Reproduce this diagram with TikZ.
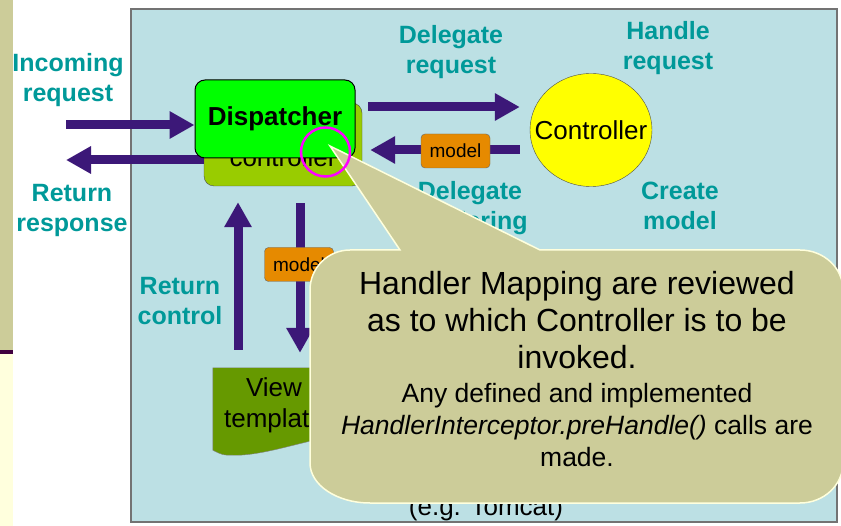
\documentclass[tikz,border=0pt]{standalone}
\usepackage{fontspec}
\setmainfont{Liberation Sans}
\usetikzlibrary{arrows.meta,shapes.geometric,calc}
\definecolor{panelblue}{RGB}{188,224,228}
\definecolor{labelteal}{RGB}{0,153,153}
\definecolor{arrowpurple}{RGB}{60,24,120}
\definecolor{dispgreen}{RGB}{0,255,0}
\definecolor{frontolive}{RGB}{153,204,0}
\definecolor{modelorange}{RGB}{230,138,0}
\definecolor{viewgreen}{RGB}{102,153,0}
\definecolor{calloutkhaki}{RGB}{204,204,153}
\definecolor{calloutrim}{RGB}{255,255,221}
\definecolor{stripkhaki}{RGB}{204,204,153}
\definecolor{stripdark}{RGB}{64,0,64}
\definecolor{stripyellow}{RGB}{255,255,221}
\definecolor{ringmagenta}{RGB}{255,0,255}
\definecolor{ballyellow}{RGB}{255,255,0}
\begin{document}
\begin{tikzpicture}[x=1pt,y=-1pt,
	bigarrow/.style={draw=arrowpurple,line width=9pt,-{Triangle[length=25pt,width=26pt]}},
	steplabel/.style={text=labelteal,align=center,inner sep=0pt,font=\fontsize{25}{30}\selectfont\bfseries},
	modelbox/.style={draw=black!60,fill=modelorange,rounded corners=4pt,minimum width=69pt,minimum height=34pt,inner sep=0pt,font=\fontsize{19}{22}\selectfont},
	calloutbig/.style={anchor=base,inner sep=0pt,font=\fontsize{32}{37}\selectfont},
	calloutsmall/.style={anchor=base,inner sep=0pt,font=\fontsize{26.5}{32}\selectfont}]
	\newcommand{\myfontbox}[1]{%
		\fontsize{26}{31}\selectfont{#1}%
	}
	\useasboundingbox (0,0) rectangle (841,526);
	%Slide strip on the left
	\fill[stripkhaki] (0,0) rectangle (13,350);
	\fill[stripdark] (0,350) rectangle (13,354);
	\fill[stripyellow] (0,354) rectangle (13,526);
	%Background panel
	\draw[draw=gray!90!black,line width=2pt,fill=panelblue] (131,9) rectangle (837,522);
	%Step labels
	\node[steplabel] (incoming) at (68,80) {Incoming\\request};
	\node[steplabel] (response) at (72,210) {Return\\response};
	\node[steplabel] (delegate) at (451,52) {Delegate\\request};
	\node[steplabel] (handle) at (668,48) {Handle\\request};
	\node[steplabel] (rendering) at (470,208) {Delegate\\rendering};
	\node[steplabel] (create) at (680,206) {Create\\model};
	\node[steplabel] (control) at (180,301) {Return\\control};
	%Boxes
	\node[draw=black!70,fill=frontolive,rounded corners=10pt,minimum width=158pt,minimum height=83pt] (front) at (283,144.5) {};
	\node[anchor=base,inner sep=0pt] (fronttext) at (283,167) {\myfontbox{controller}};
	\node[draw=black!70,fill=ballyellow,ellipse,minimum width=122pt,minimum height=113pt,inner sep=0pt] (controller) at (591,130) {};
	\node[inner sep=0pt] (controllertext) at (controller) {\myfontbox{Controller}};
	\node[minimum width=122pt,minimum height=74pt,inner sep=0pt] (view) at (274,405) {};
	%Free ends of the outer arrows
	\coordinate (inc) at (66,125);
	\coordinate (ret) at (66,160);
	\coordinate (dr) at (0,107);
	\coordinate (mr) at (0,150);
	\coordinate (up) at (238,0);
	\coordinate (down) at (300,0);
	%Arrows
	\draw[bigarrow] (front.west |- ret) -- (ret);
	\draw[bigarrow,shorten <=6pt,shorten >=10pt] (front.east |- dr) -- (controller.west |- dr);
	\draw[bigarrow,shorten <=10pt,shorten >=8pt] (controller.west |- mr) -- (front.east |- mr);
	\draw[bigarrow,shorten <=18pt,shorten >=16pt] (view.north -| up) -- (front.south -| up);
	\draw[bigarrow,shorten <=17pt,shorten >=15pt] (front.south -| down) -- (view.north -| down);
	%Dispatcher on top of the front controller
	\node[draw=black,line width=1pt,fill=dispgreen,rounded corners=10pt,minimum width=160pt,minimum height=78pt] (dispatcher) at (275,119) {\myfontbox{\bfseries Dispatcher}};
	\draw[bigarrow] (inc) -- (inc -| dispatcher.west);
	%Models
	\node[modelbox] (model1) at (455.5,151) {model};
	\node[modelbox] (model2) at (299,264.5) {model};
	%View template
	\draw[draw=black!50,fill=viewgreen] (view.north west) -- (view.north east) -- ($(view.south east)+(0,-6)$)
		.. controls ($(view.south east)+(-30,-2)$) and ($(view.south west)+(50,14)$) .. ($(view.south west)+(20,13)$)
		.. controls ($(view.south west)+(10,13)$) .. ($(view.south west)+(0,8)$) -- cycle;
	\node[align=center,inner sep=0pt,font=\fontsize{26}{31}\selectfont] (viewtext) at (274,405) {View\\template};
	%Server
	\node[inner sep=0pt] (server) at (486,509) {\myfontbox{(e.g. Tomcat)}};
	%Callout
	\coordinate (tip) at (330,146);
	\draw[draw=calloutrim,line width=1.5pt,fill=calloutkhaki] (350,250) -- (400,250) -- (tip) -- (540,250) -- (800,250)
		arc[start angle=90,end angle=0,x radius=43pt,y radius=40pt] -- (843,463)
		arc[start angle=0,end angle=-90,x radius=43pt,y radius=40pt] -- (370,503)
		arc[start angle=-90,end angle=-180,x radius=60pt,y radius=40pt] -- (310,290)
		arc[start angle=180,end angle=90,x radius=40pt,y radius=40pt] -- cycle;
	\node[calloutbig] (map1) at (577,295) {Handler Mapping are reviewed};
	\node[calloutbig] (map2) at (577,332) {as to which Controller is to be};
	\node[calloutbig] (map3) at (577,369) {invoked.};
	\node[calloutsmall] (pre1) at (577,403) {Any defined and implemented};
	\node[calloutsmall] (pre2) at (577,435) {\textit{HandlerInterceptor.preHandle()} calls are};
	\node[calloutsmall] (pre3) at (577,467) {made.};
	%Focus ring
	\node[draw=ringmagenta,line width=2.5pt,circle,minimum size=49pt,inner sep=0pt] (focus) at (325.5,152) {};
\end{tikzpicture}
\end{document}
